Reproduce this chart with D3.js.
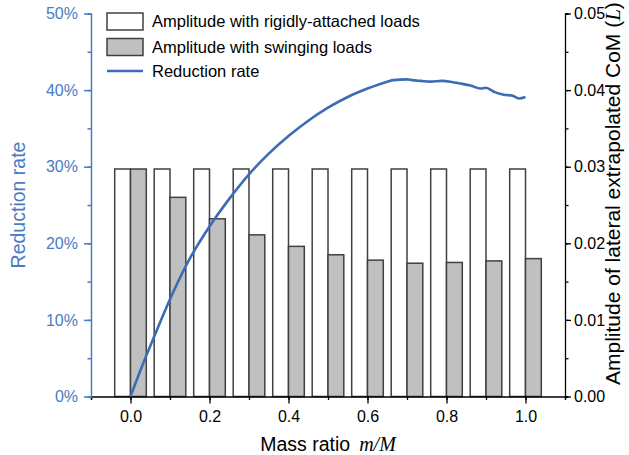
<!DOCTYPE html>
<html>
<head>
<meta charset="utf-8">
<script src="https://cdn.jsdelivr.net/npm/d3@7"></script>
<style>
	body { margin: 0; background: #fff; }
	svg { display: block; font-family: "Liberation Sans", Arial, sans-serif; }
</style>
</head>
<body>
<svg id="chart" width="629" height="455"></svg>
<script>
// mass ratio categories for the bars
const massRatios = [0.0, 0.1, 0.2, 0.3, 0.4, 0.5, 0.6, 0.7, 0.8, 0.9, 1.0]
// amplitude of lateral XCoM
const rigidAmplitude = [0.0297, 0.0297, 0.0297, 0.0297, 0.0297, 0.0297, 0.0297, 0.0297, 0.0297, 0.0297, 0.0297]
const swingAmplitude = [0.0297, 0.0260, 0.0232, 0.0211, 0.0196, 0.0185, 0.0178, 0.0174, 0.0175, 0.0177, 0.0180]
// reduction rate curve
const rateMass = [0, 0.025, 0.05, 0.075, 0.1, 0.15, 0.2, 0.25, 0.3, 0.35, 0.4, 0.45, 0.5, 0.55, 0.6, 0.65, 0.665, 0.70, 0.713, 0.735, 0.759, 0.789, 0.81, 0.831, 0.861, 0.886, 0.899, 0.924, 0.945, 0.966, 0.983, 1.0]
const rateValue = [0, 0.034, 0.066, 0.097, 0.127, 0.180, 0.222, 0.258, 0.290, 0.317, 0.340, 0.360, 0.377, 0.391, 0.402, 0.411, 0.413, 0.414, 0.413, 0.412, 0.411, 0.412, 0.411, 0.409, 0.406, 0.402, 0.403, 0.397, 0.394, 0.393, 0.389, 0.391]
const xTicks = [0.0, 0.2, 0.4, 0.6, 0.8, 1.0]
const legendLabels = ["Amplitude with rigidly-attached loads", "Amplitude with swinging loads", "Reduction rate"]

const blue = "#4a7cc1"
const lineBlue = "#3b6cb5"
const dark = "#404040"

const svg = d3.select("#chart")
const plotLeft = 91, plotRight = 565, plotTop = 13.5, plotBottom = 396.5

const x = d3.scaleLinear().domain([-0.1, 1.1]).range([plotLeft, plotRight])
const yRate = d3.scaleLinear().domain([0, 0.5]).range([plotBottom, plotTop])
const yAmp = d3.scaleLinear().domain([0, 0.05]).range([plotBottom, plotTop])
const barW = x(0.04) - x(0)

// bars
const bars = svg.append("g")
bars.selectAll(".rigid")
	.data(massRatios)
	.enter().append("rect")
		.attr("x", (d, i) => x(d) - barW)
		.attr("y", (d, i) => yAmp(rigidAmplitude[i]))
		.attr("width", barW)
		.attr("height", (d, i) => plotBottom - yAmp(rigidAmplitude[i]))
		.attr("fill", "#fff")
		.attr("stroke", dark)
		.attr("stroke-width", 1.5)
bars.selectAll(".swing")
	.data(massRatios)
	.enter().append("rect")
		.attr("x", d => x(d))
		.attr("y", (d, i) => yAmp(swingAmplitude[i]))
		.attr("width", barW)
		.attr("height", (d, i) => plotBottom - yAmp(swingAmplitude[i]))
		.attr("fill", "#c0c0c0")
		.attr("stroke", dark)
		.attr("stroke-width", 1.5)

// x axis
const xMinor = svg.append("g")
	.attr("transform", `translate(0, ${plotBottom})`)
	.call(d3.axisBottom(x).tickValues(d3.range(-0.1, 1.15, 0.1)).tickSize(3.5).tickFormat(""))
xMinor.select(".domain").attr("stroke", "#000").attr("stroke-width", 1.3)
const xMajor = svg.append("g")
	.attr("transform", `translate(0, ${plotBottom})`)
	.call(d3.axisBottom(x).tickValues(xTicks).tickSize(7).tickPadding(7).tickFormat(d3.format(".1f")))
xMajor.select(".domain").remove()
svg.selectAll("g .tick line").attr("stroke-width", 1.3)
xMajor.selectAll("text").attr("font-size", 16).attr("fill", "#000").attr("font-family", null)

// left axis
const yMinor = svg.append("g")
	.attr("transform", `translate(${plotLeft}, 0)`)
	.call(d3.axisLeft(yRate).tickValues(d3.range(0, 0.51, 0.05)).tickSize(3.5).tickFormat(""))
const yMajor = svg.append("g")
	.attr("transform", `translate(${plotLeft}, 0)`)
	.call(d3.axisLeft(yRate).ticks(5).tickSize(7).tickPadding(6).tickFormat(d3.format(".0%")))
yMajor.select(".domain").remove()
yMinor.selectAll(".domain, .tick line").attr("stroke", blue).attr("stroke-width", 1.5)
yMajor.selectAll(".tick line").attr("stroke", blue).attr("stroke-width", 1.5)
yMajor.selectAll("text").attr("font-size", 16).attr("fill", blue).attr("font-family", null)

// right axis
const rMinor = svg.append("g")
	.attr("transform", `translate(${plotRight}, 0)`)
	.call(d3.axisRight(yAmp).tickValues(d3.range(0, 0.051, 0.005)).tickSize(3.5).tickFormat(""))
const rMajor = svg.append("g")
	.attr("transform", `translate(${plotRight}, 0)`)
	.call(d3.axisRight(yAmp).ticks(5).tickSize(6).tickPadding(3).tickFormat(d3.format(".2f")))
rMajor.select(".domain").remove()
rMinor.selectAll(".domain, .tick line").attr("stroke", "#000").attr("stroke-width", 1.3)
rMajor.selectAll(".tick line").attr("stroke-width", 1.3)
rMajor.selectAll("text").attr("font-size", 16).attr("fill", "#000").attr("font-family", null)

// reduction rate line
const line = d3.line()
	.x((d, i) => x(rateMass[i]))
	.y((d, i) => yRate(d))
	.curve(d3.curveMonotoneX)
svg.append("path")
	.datum(rateValue)
	.attr("d", line)
	.attr("fill", "none")
	.attr("stroke", lineBlue)
	.attr("stroke-width", 2.6)

// axis titles
svg.append("text")
	.attr("transform", `translate(25, ${(plotTop + plotBottom) / 2}) rotate(-90)`)
	.attr("text-anchor", "middle")
	.attr("font-size", 19.5)
	.attr("fill", blue)
	.text("Reduction rate")

const xTitle = svg.append("text")
	.attr("x", (plotLeft + plotRight) / 2)
	.attr("y", 451)
	.attr("text-anchor", "middle")
	.attr("font-size", 19.5)
xTitle.append("tspan").text("Mass ratio")
xTitle.append("tspan")
	.attr("dx", 9)
	.attr("font-family", "'Liberation Serif', 'Times New Roman', serif")
	.attr("font-style", "italic")
	.attr("font-size", 20)
	.text("m/M")

const rTitle = svg.append("text")
	.attr("transform", `translate(620, 385) rotate(-90)`)
	.attr("text-anchor", "start")
	.attr("font-size", 21)
rTitle.append("tspan").text("Amplitude of lateral extrapolated CoM (")
rTitle.append("tspan")
	.attr("font-family", "'Liberation Serif', 'Times New Roman', serif")
	.attr("font-style", "italic")
	.text("L")
rTitle.append("tspan").text(")")

// legend
const legend = svg.append("g").attr("transform", "translate(107, 13)")
legendLabels.forEach((label, i) => {
	const row = legend.append("g").attr("transform", `translate(0, ${i * 25.5})`)
	if (i < 2) {
		row.append("rect")
			.attr("x", 0).attr("y", 0)
			.attr("width", 36).attr("height", 17)
			.attr("fill", i == 0 ? "#fff" : "#c0c0c0")
			.attr("stroke", dark)
			.attr("stroke-width", 1.5)
	} else {
		row.append("line")
			.attr("x1", 0).attr("x2", 36)
			.attr("y1", 7).attr("y2", 7)
			.attr("stroke", lineBlue)
			.attr("stroke-width", 2.6)
	}
	row.append("text")
		.attr("x", 45)
		.attr("y", i < 2 ? 8.5 : 7)
		.attr("dy", "0.35em")
		.attr("font-size", 16.5)
		.text(label)
})
</script>
</body>
</html>
